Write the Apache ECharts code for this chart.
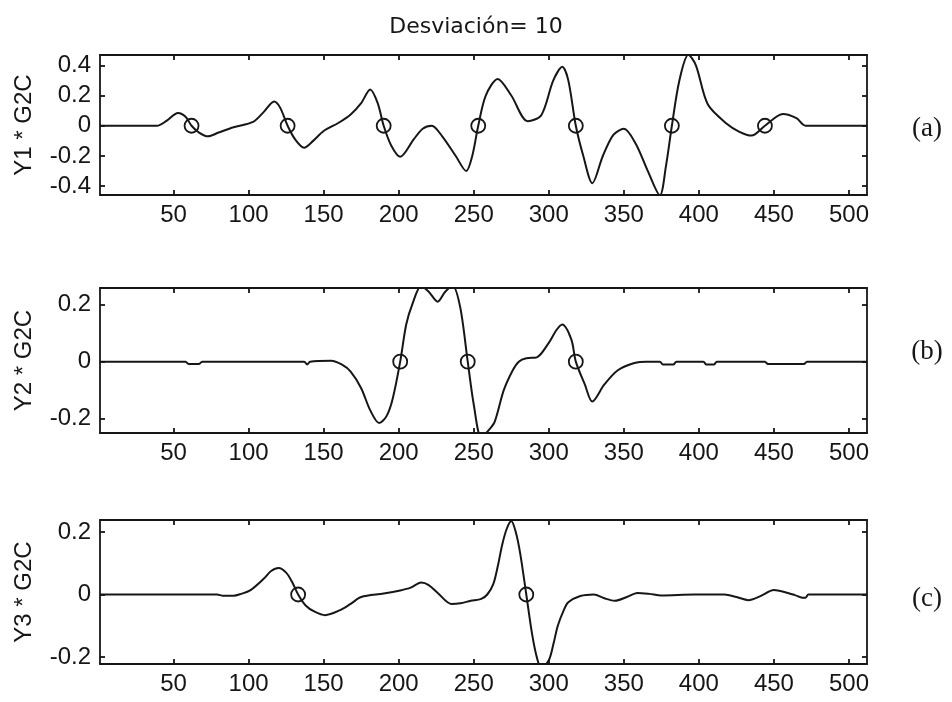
<!DOCTYPE html>
<html>
<head>
<meta charset="utf-8">
<script src="https://cdn.jsdelivr.net/npm/echarts@6/dist/echarts.min.js"></script>
<style>html,body{margin:0;padding:0;background:#fff;}#c{width:952px;height:702px;}</style>
</head>
<body>
<div id="c"></div>
<script>
// ---- data ----
const titleText = 'Desviación= 10';
const panelNames = ['Y1 * G2C', 'Y2 * G2C', 'Y3 * G2C'];
const panelTags = ['(a)', '(b)', '(c)'];
const xTicks = [50, 100, 150, 200, 250, 300, 350, 400, 450, 500];
const xRange = [1, 512];

const y1Ticks = [-0.4, -0.2, 0, 0.2, 0.4];
const y1Range = [-0.458, 0.468];
const y1X = [1, 39, 45, 53, 58, 62, 67, 73, 80, 90, 103, 110, 117, 121, 126, 131, 137, 143, 150, 160, 168, 175, 181, 186, 190, 195, 201, 210, 216, 222, 229, 238, 245, 249, 253, 258, 266, 275, 286, 295, 303, 309, 313, 318, 323, 329, 336, 343, 350, 358, 366, 374, 378, 382, 387, 393, 398, 406, 419, 427, 435, 444, 456, 465, 471, 512];
const y1V = [0, 0, 0.03, 0.085, 0.06, 0, -0.045, -0.07, -0.045, -0.01, 0.025, 0.09, 0.16, 0.12, 0, -0.09, -0.145, -0.1, -0.035, 0.02, 0.075, 0.15, 0.24, 0.15, 0, -0.13, -0.205, -0.09, -0.02, 0, -0.07, -0.2, -0.3, -0.2, 0, 0.2, 0.31, 0.2, 0.03, 0.07, 0.3, 0.39, 0.3, 0, -0.2, -0.38, -0.2, -0.06, -0.02, -0.12, -0.3, -0.46, -0.27, 0, 0.3, 0.47, 0.4, 0.14, 0.01, -0.04, -0.065, 0, 0.078, 0.05, 0, 0];
const y1CircX = [62, 126, 190, 253, 318, 382, 444];
const y1CircV = [0, 0, 0, 0, 0, 0, 0];

const y2Ticks = [-0.2, 0, 0.2];
const y2Range = [-0.25, 0.258];
const y2X = [1, 58, 60, 67, 69, 137, 139, 141, 155, 162, 168, 175, 181, 187, 192, 196, 201, 205, 209, 215, 220, 226, 231, 236, 241, 246, 250, 255, 260, 264, 270, 276, 280, 285, 292, 300, 305, 309, 315, 318, 324, 329, 337, 346, 357, 365, 374, 376, 383, 385, 403, 405, 410, 412, 444, 446, 470, 472, 512];
const y2V = [0, 0, -0.008, -0.008, 0, 0, -0.01, 0, 0.003, -0.01, -0.035, -0.093, -0.17, -0.215, -0.19, -0.13, 0, 0.13, 0.2, 0.265, 0.245, 0.21, 0.245, 0.265, 0.19, 0, -0.15, -0.265, -0.24, -0.21, -0.1, -0.03, 0, 0.012, 0.015, 0.066, 0.11, 0.13, 0.078, 0, -0.08, -0.14, -0.08, -0.03, -0.005, 0, 0, -0.01, -0.01, 0, 0, -0.01, -0.01, 0, 0, -0.008, -0.008, 0, 0];
const y2CircX = [201, 246, 318];
const y2CircV = [0, 0, 0];

const y3Ticks = [-0.2, 0, 0.2];
const y3Range = [-0.222, 0.238];
const y3X = [1, 79, 83, 90, 95, 101, 110, 115, 120, 125, 129, 133, 138, 144, 151, 161, 168, 175, 190, 201, 208, 215, 220, 226, 235, 241, 248, 255, 259, 263, 266, 269, 272, 275, 278, 281, 285, 289, 292, 295, 300, 303, 306, 310, 313, 321, 330, 337, 344, 352, 359, 367, 375, 397, 417, 425, 433, 441, 450, 457, 464, 469, 471, 473, 512];
const y3V = [0, 0, -0.004, -0.004, 0.002, 0.013, 0.05, 0.075, 0.085, 0.07, 0.04, 0, -0.035, -0.055, -0.066, -0.05, -0.03, -0.008, 0.003, 0.013, 0.022, 0.038, 0.03, 0.005, -0.03, -0.028, -0.02, -0.014, 0, 0.033, 0.09, 0.16, 0.21, 0.235, 0.2, 0.13, 0, -0.13, -0.2, -0.235, -0.21, -0.16, -0.1, -0.05, -0.025, -0.005, 0, -0.012, -0.02, -0.008, 0.005, 0.002, -0.003, 0, 0, -0.008, -0.018, -0.005, 0.014, 0.008, -0.002, -0.01, -0.01, 0, 0];
const y3CircX = [133, 285];
const y3CircV = [0, 0];

// ---- chart ----
const ink = '#161616';
const tickFont = "'Liberation Sans', Arial, sans-serif";
const panels = [
  {x: y1X, v: y1V, cx: y1CircX, cv: y1CircV, ticks: y1Ticks, range: y1Range, top: 55, height: 140, tagY: 129},
  {x: y2X, v: y2V, cx: y2CircX, cv: y2CircV, ticks: y2Ticks, range: y2Range, top: 288, height: 145, tagY: 352},
  {x: y3X, v: y3V, cx: y3CircX, cv: y3CircV, ticks: y3Ticks, range: y3Range, top: 520, height: 144, tagY: 599}
];

const grid = [], xAxis = [], yAxis = [], series = [], graphic = [];
panels.forEach((p, i) => {
  grid.push({left: 100, right: 85, top: p.top, height: p.height});
  const lineStyle = {color: ink, width: 1.8};
  xAxis.push({
    type: 'value', gridIndex: i, position: 'bottom', min: xRange[0], max: xRange[1],
    axisLine: {show: true, onZero: false, lineStyle},
    axisTick: {show: true, inside: true, length: 5, customValues: xTicks, lineStyle},
    axisLabel: {show: true, customValues: xTicks, color: ink, fontSize: 24, fontFamily: tickFont, margin: 8},
    splitLine: {show: false}
  });
  xAxis.push({
    type: 'value', gridIndex: i, position: 'top', min: xRange[0], max: xRange[1],
    axisLine: {show: true, onZero: false, lineStyle},
    axisTick: {show: true, inside: true, length: 5, customValues: xTicks, lineStyle},
    axisLabel: {show: false},
    splitLine: {show: false}
  });
  yAxis.push({
    type: 'value', gridIndex: i, position: 'left', min: p.range[0], max: p.range[1],
    name: panelNames[i], nameLocation: 'middle', nameGap: 64,
    nameTextStyle: {color: ink, fontSize: 24, fontFamily: tickFont},
    axisLine: {show: true, onZero: false, lineStyle},
    axisTick: {show: true, inside: true, length: 5, customValues: p.ticks, lineStyle},
    axisLabel: {show: true, customValues: p.ticks, color: ink, fontSize: 24, fontFamily: tickFont, margin: 9,
      formatter: v => (Math.abs(v) < 1e-9 ? '0' : String(+v.toFixed(1)))},
    splitLine: {show: false}
  });
  yAxis.push({
    type: 'value', gridIndex: i, position: 'right', min: p.range[0], max: p.range[1],
    axisLine: {show: true, onZero: false, lineStyle},
    axisTick: {show: true, inside: true, length: 5, customValues: p.ticks, lineStyle},
    axisLabel: {show: false},
    splitLine: {show: false}
  });
  series.push({
    type: 'line', xAxisIndex: 2 * i, yAxisIndex: 2 * i,
    data: p.x.map((x, k) => [x, p.v[k]]),
    smooth: 0.3, showSymbol: false, clip: true,
    lineStyle: {color: ink, width: 2}, silent: true, animation: false
  });
  series.push({
    type: 'scatter', xAxisIndex: 2 * i, yAxisIndex: 2 * i,
    data: p.cx.map((x, k) => [x, p.cv[k]]),
    symbol: 'circle', symbolSize: 14,
    itemStyle: {color: 'rgba(0,0,0,0)', borderColor: ink, borderWidth: 1.8, opacity: 1},
    silent: true, animation: false
  });
  graphic.push({
    type: 'text', x: 927, y: p.tagY,
    style: {text: panelTags[i], fill: ink, font: "27px 'Liberation Serif', 'Times New Roman', serif", textAlign: 'center', textVerticalAlign: 'middle'}
  });
});

const chart = echarts.init(document.getElementById('c'), null, {renderer: 'canvas'});
chart.setOption({
  backgroundColor: '#ffffff',
  animation: false,
  title: {text: titleText, left: 'center', top: 11,
    textStyle: {color: ink, fontSize: 22, fontWeight: 'normal', fontFamily: "'DejaVu Sans', sans-serif"}},
  grid, xAxis, yAxis, series, graphic
});
</script>
</body>
</html>
